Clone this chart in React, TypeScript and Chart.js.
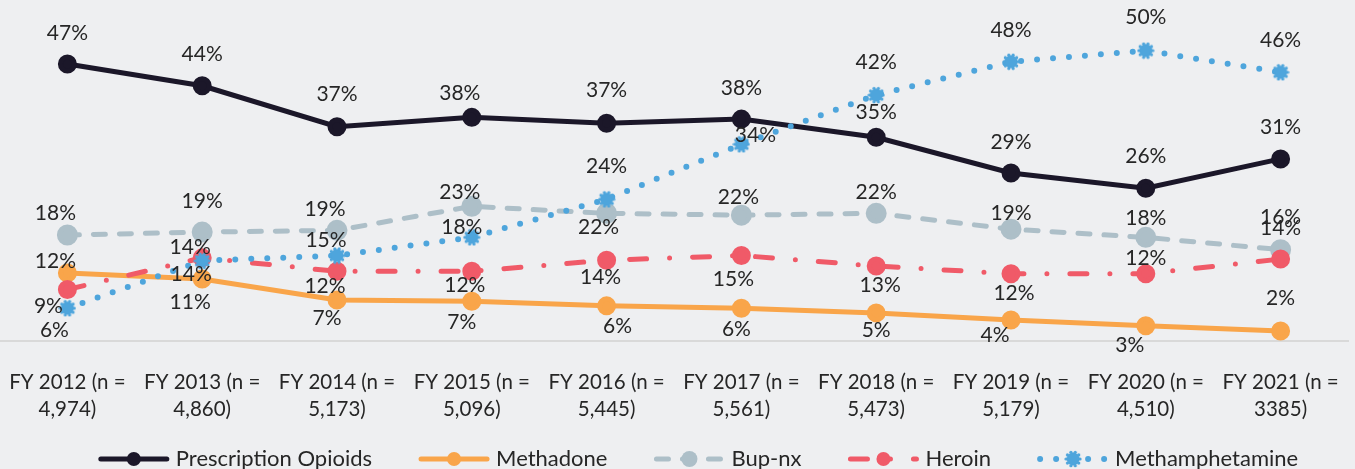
import React, { useEffect, useRef } from "react";
import { Chart, registerables } from "chart.js";

Chart.register(...registerables);

const years = ["FY 2012", "FY 2013", "FY 2014", "FY 2015", "FY 2016", "FY 2017", "FY 2018", "FY 2019", "FY 2020", "FY 2021"];
const sampleSizes = ["4,974", "4,860", "5,173", "5,096", "5,445", "5,561", "5,473", "5,179", "4,510", "3385"];

const prescriptionOpioids = [47.3, 43.6, 36.6, 38.2, 37.2, 37.9, 34.8, 28.7, 26.1, 31.1];
const methadone = [11.6, 10.6, 7.0, 6.8, 6.0, 5.6, 4.8, 3.6, 2.6, 1.7];
const bupNx = [18.1, 18.6, 18.9, 23.0, 21.8, 21.5, 21.8, 19.1, 17.7, 15.6];
const heroin = [8.8, 14.2, 11.9, 11.9, 13.8, 14.6, 12.8, 11.5, 11.5, 14.0];
const methamphetamine = [5.6, 13.7, 14.6, 17.7, 24.2, 33.6, 42.0, 47.7, 49.6, 45.9];

// data-label offsets (dx, dy) relative to each point
const opioidLabelOffsets = [[0, -31], [0, -32], [0, -32], [-12, -24], [0, -33], [0, -31], [0, -25], [0, -31], [0, -32], [0, -32]];
const methadoneLabelOffsets = [[-12, -12], [-12, 23], [-10, 18], [-10, 21], [11, 20], [-5, 21], [0, 17], [-16, 15], [-16, 19], [0, -33]];
const bupLabelOffsets = [[-12, -22], [0, -31], [-12, -21], [-12, -14], [-8, 14], [-3, -18], [0, -21], [0, -16], [0, -19], [0, -32]];
const heroinLabelOffsets = [[-19, 17], [-11, 16], [-12, 15], [-7, 14], [-6, 17], [-8, 24], [4, 19], [3, 20], [0, -15], [0, -31]];
const methLabelOffsets = [[-13, 22], [-12, -14], [-11, -15], [-10, -10], [0, -33], [14, -9], [0, -33], [0, -32], [0, -33], [0, -32]];

const FONT = "Lato, 'Open Sans', sans-serif";
const BG = "#eeeff1";
const TEXT = "#262626";

function makeGear(color: string) {
  const c = document.createElement("canvas");
  c.width = 18;
  c.height = 18;
  const g = c.getContext("2d")!;
  g.fillStyle = color;
  g.beginPath();
  g.arc(9, 9, 6.5, 0, Math.PI * 2);
  g.fill();
  for (let i = 0; i < 10; i++) {
    const a = (i / 10) * Math.PI * 2;
    g.beginPath();
    g.arc(9 + Math.cos(a) * 7, 9 + Math.sin(a) * 7, 1.6, 0, Math.PI * 2);
    g.fill();
  }
  return c;
}

export default function App() {
  const ref = useRef<HTMLCanvasElement>(null);

  useEffect(() => {
    document.body.style.margin = "0";
    document.body.style.background = BG;
    const gear = makeGear("#4ea5dc");
    const labels = years.map((y, i) => [`${y} (n =`, `${sampleSizes[i]})`]);

    const datasets: any[] = [
      {
        label: "Prescription Opioids",
        data: prescriptionOpioids,
        borderColor: "#1b1729",
        backgroundColor: "#1b1729",
        borderWidth: 5,
        pointRadius: 7,
        pointStyle: "circle",
        order: 4,
        offsets: opioidLabelOffsets,
      },
      {
        label: "Methadone",
        data: methadone,
        borderColor: "#f9a54a",
        backgroundColor: "#f9a54a",
        borderWidth: 5,
        pointRadius: 7,
        pointStyle: "circle",
        order: 3,
        offsets: methadoneLabelOffsets,
      },
      {
        label: "Bup-nx",
        data: bupNx,
        borderColor: "#adbfc8",
        backgroundColor: "#adbfc8",
        borderWidth: 5,
        borderDash: [12, 14],
        borderCapStyle: "round",
        pointRadius: 8,
        pointStyle: "circle",
        order: 2,
        offsets: bupLabelOffsets,
      },
      {
        label: "Heroin",
        data: heroin,
        borderColor: "#f05a68",
        backgroundColor: "#f05a68",
        borderWidth: 5,
        borderDash: [17, 23, 0, 23],
        borderCapStyle: "round",
        pointRadius: 7,
        pointStyle: "circle",
        order: 1,
        offsets: heroinLabelOffsets,
      },
      {
        label: "Methamphetamine",
        data: methamphetamine,
        borderColor: "#4ea5dc",
        backgroundColor: "#4ea5dc",
        borderWidth: 6,
        borderDash: [0, 16],
        borderCapStyle: "round",
        pointRadius: 9,
        pointStyle: gear,
        order: 0,
        offsets: methLabelOffsets,
      },
    ];

    const bgPlugin = {
      id: "bg",
      beforeDraw(chart: any) {
        const { ctx, width, height } = chart;
        ctx.save();
        ctx.fillStyle = BG;
        ctx.fillRect(0, 0, width, height);
        ctx.restore();
      },
    };

    const labelPlugin = {
      id: "valueLabels",
      afterDatasetsDraw(chart: any) {
        const ctx = chart.ctx;
        ctx.save();
        ctx.font = `21px ${FONT}`;
        ctx.fillStyle = TEXT;
        ctx.textAlign = "center";
        ctx.textBaseline = "middle";
        chart.data.datasets.forEach((ds: any, i: number) => {
          const meta = chart.getDatasetMeta(i);
          meta.data.forEach((el: any, j: number) => {
            const off = ds.offsets[j];
            ctx.fillText(`${Math.round(ds.data[j])}%`, el.x + off[0], el.y + off[1]);
          });
        });
        ctx.restore();
      },
    };

    const legendPlugin = {
      id: "customLegend",
      afterDraw(chart: any) {
        const ctx = chart.ctx;
        ctx.save();
        ctx.font = `22px ${FONT}`;
        const sampleW = 72;
        const textGap = 6;
        const itemGap = 46;
        const items = chart.data.datasets.map((ds: any) => ({ ds, w: ctx.measureText(ds.label).width }));
        const total = items.reduce((s: number, it: any) => s + sampleW + textGap + it.w, 0) + itemGap * (items.length - 1);
        let x = (chart.chartArea.left + chart.chartArea.right) / 2 + 24 - total / 2;
        const y = 459;
        items.forEach((it: any) => {
          const ds = it.ds;
          ctx.save();
          ctx.strokeStyle = ds.borderColor;
          ctx.lineWidth = ds.borderWidth;
          ctx.lineCap = ds.borderCapStyle || "round";
          ctx.setLineDash(ds.borderDash || []);
          ctx.beginPath();
          ctx.moveTo(x + 3, y);
          ctx.lineTo(x + sampleW - 3, y);
          ctx.stroke();
          ctx.setLineDash([]);
          const cx = x + sampleW / 2;
          if (ds.pointStyle instanceof HTMLCanvasElement) {
            ctx.drawImage(ds.pointStyle, cx - 9, y - 9);
          } else {
            ctx.fillStyle = ds.backgroundColor;
            ctx.beginPath();
            ctx.arc(cx, y, ds.pointRadius, 0, Math.PI * 2);
            ctx.fill();
          }
          ctx.restore();
          ctx.fillStyle = TEXT;
          ctx.textAlign = "left";
          ctx.textBaseline = "middle";
          ctx.fillText(ds.label, x + sampleW + textGap, y);
          x += sampleW + textGap + it.w + itemGap;
        });
        ctx.restore();
      },
    };

    const chart = new Chart(ref.current!, {
      type: "line",
      data: { labels, datasets },
      options: {
        animation: false,
        responsive: true,
        maintainAspectRatio: false,
        layout: { autoPadding: false, padding: { top: 19, left: 0, right: 7, bottom: 46 } },
        plugins: {
          legend: { display: false },
          tooltip: { enabled: false },
        },
        elements: {
          line: { tension: 0 },
          point: { borderWidth: 0, hoverRadius: 7 },
        },
        scales: {
          x: {
            offset: true,
            grid: { display: false, drawTicks: true, tickLength: 28 },
            border: { display: true, color: "#d9d9d9", width: 2 },
            ticks: {
              color: TEXT,
              padding: 0,
              maxRotation: 0,
              autoSkip: false,
              font: { family: FONT, size: 20.5, lineHeight: 1.317 },
            },
            afterFit(scale: any) {
              scale.height = 82;
            },
          },
          y: {
            display: false,
            min: 0,
            max: 55,
          },
        },
      },
      plugins: [bgPlugin, labelPlugin, legendPlugin],
    });
    return () => chart.destroy();
  }, []);

  return (
    <div style={{ position: "fixed", left: 0, top: 0, width: 1355, height: 469 }}>
      <canvas ref={ref} />
    </div>
  );
}
